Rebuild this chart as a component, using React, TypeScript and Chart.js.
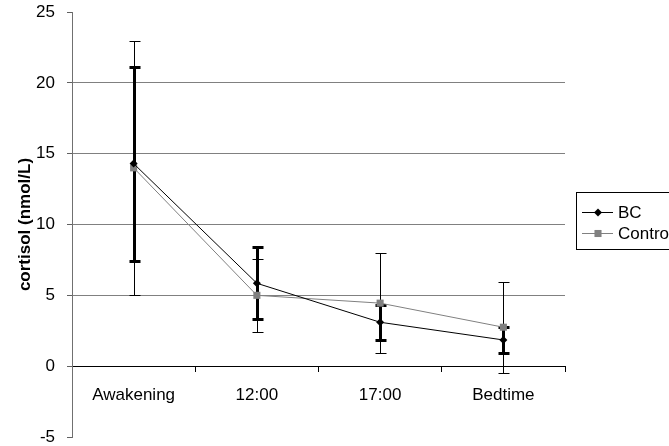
import { useEffect, useRef } from 'react';
import { Chart, registerables } from 'chart.js';

Chart.register(...registerables);

const categories = ['Awakening', '12:00', '17:00', 'Bedtime'];
const bcMean = [14.3, 5.85, 3.1, 1.85];
const bcErr = [6.85, 2.55, 1.25, 0.95];
const controlMean = [14.0, 5.0, 4.45, 2.75];
const controlErr = [8.95, 2.6, 3.55, 3.2];
const yTicks = { min: -5, max: 25, step: 5 };
const seriesLabels = ['BC', 'Control'];
const axisTitle = 'cortisol (nmol/L)';

const FAMILY = '"Liberation Sans", Arial, sans-serif';
const FONT_SIZE = 17;

export default function App() {
  const ref = useRef<HTMLCanvasElement>(null);

  useEffect(() => {
    document.body.style.margin = '0';
    const errs = [bcErr, controlErr];

    const errorBars = {
      id: 'errorBars',
      beforeDatasetsDraw(chart: any) {
        const ctx = chart.ctx;
        const yScale = chart.scales.y;
        const order = [
          { idx: 1, width: 1, cap: 5 },
          { idx: 0, width: 3, cap: 5 },
        ];
        ctx.save();
        ctx.strokeStyle = '#000';
        order.forEach(({ idx, width, cap }) => {
          const meta = chart.getDatasetMeta(idx);
          const data = chart.data.datasets[idx].data as number[];
          const err = errs[idx];
          ctx.lineWidth = width;
          meta.data.forEach((pt: any, i: number) => {
            const x = Math.round(pt.x) + (width % 2 ? 0.5 : 0);
            const yt = Math.round(yScale.getPixelForValue(data[i] + err[i])) + 0.5;
            const yb = Math.round(yScale.getPixelForValue(data[i] - err[i])) + 0.5;
            ctx.beginPath();
            ctx.moveTo(x, yt);
            ctx.lineTo(x, yb);
            ctx.moveTo(x - cap, yt);
            ctx.lineTo(x + cap + 1, yt);
            ctx.moveTo(x - cap, yb);
            ctx.lineTo(x + cap + 1, yb);
            ctx.stroke();
          });
        });
        ctx.restore();
      },
    };

    const legendBox = {
      id: 'legendBox',
      afterDraw(chart: any) {
        const ctx = chart.ctx;
        ctx.save();
        const bx = 576.5, by = 192.5, bw = 140, bh = 57;
        ctx.fillStyle = '#fff';
        ctx.fillRect(bx, by, bw, bh);
        ctx.strokeStyle = '#000';
        ctx.lineWidth = 1;
        ctx.strokeRect(bx, by, bw, bh);
        const rows = [212, 233];
        chart.data.datasets.forEach((ds: any, i: number) => {
          const y = rows[i] + 0.5;
          ctx.strokeStyle = ds.borderColor;
          ctx.lineWidth = 1;
          ctx.beginPath();
          ctx.moveTo(582, y);
          ctx.lineTo(613, y);
          ctx.stroke();
          ctx.fillStyle = ds.pointBackgroundColor;
          ctx.beginPath();
          if (ds.pointStyle === 'rectRot') {
            const r = ds.pointRadius;
            ctx.moveTo(598 - r, y);
            ctx.lineTo(598, y - r);
            ctx.lineTo(598 + r, y);
            ctx.lineTo(598, y + r);
            ctx.closePath();
          } else {
            const s = ds.pointRadius * Math.SQRT1_2;
            ctx.rect(598 - s, y - s, 2 * s, 2 * s);
          }
          ctx.fill();
          ctx.fillStyle = '#000';
          ctx.font = `${FONT_SIZE}px ${FAMILY}`;
          ctx.textBaseline = 'middle';
          ctx.textAlign = 'left';
          ctx.fillText(ds.label, 618, rows[i] + 1);
        });
        ctx.restore();
      },
    };

    const chart = new Chart(ref.current as HTMLCanvasElement, {
      type: 'line',
      data: {
        labels: categories,
        datasets: [
          {
            label: seriesLabels[0],
            data: bcMean,
            borderColor: '#000',
            backgroundColor: '#000',
            pointBackgroundColor: '#000',
            pointBorderColor: '#000',
            borderWidth: 1,
            pointStyle: 'rectRot',
            pointRadius: 4,
            pointBorderWidth: 0,
            tension: 0,
          } as any,
          {
            label: seriesLabels[1],
            data: controlMean,
            borderColor: '#808080',
            backgroundColor: '#808080',
            pointBackgroundColor: '#808080',
            pointBorderColor: '#808080',
            borderWidth: 1,
            pointStyle: 'rect',
            pointRadius: 5,
            pointBorderWidth: 0,
            tension: 0,
          } as any,
        ],
      },
      options: {
        responsive: false,
        animation: false,
        devicePixelRatio: 1,
        layout: { padding: { left: 0, right: 104, top: 12, bottom: 9 } },
        plugins: {
          legend: { display: false },
          tooltip: { enabled: false },
        },
        scales: {
          x: {
            type: 'category',
            position: { y: 0 } as any,
            offset: true,
            grid: {
              drawOnChartArea: false,
              drawTicks: true,
              tickLength: 5,
              color: '#000',
              offset: true,
            },
            border: { color: '#000', width: 1 },
            ticks: {
              color: '#000',
              font: { size: FONT_SIZE, family: FAMILY },
              padding: 14,
              maxRotation: 0,
              autoSkip: false,
            },
            afterFit: (s: any) => {
              s.height = 0;
              s.paddingLeft = 0;
              s.paddingRight = 0;
            },
          },
          y: {
            min: yTicks.min,
            max: yTicks.max,
            ticks: {
              stepSize: yTicks.step,
              color: '#000',
              font: { size: FONT_SIZE, family: FAMILY },
              padding: 12,
            },
            grid: {
              color: (c: any) =>
                c.tick && c.tick.value > 0 && c.tick.value < yTicks.max ? '#808080' : 'rgba(0,0,0,0)',
              tickColor: '#606060',
              tickLength: 5,
              drawTicks: true,
            },
            border: { color: '#707070', width: 1 },
            title: {
              display: true,
              text: axisTitle,
              color: '#000',
              font: { size: FONT_SIZE, weight: 'bold', family: FAMILY },
              padding: { top: 15, bottom: 0 },
            },
            afterFit: (s: any) => {
              s.width = 72;
              s.paddingTop = 0;
              s.paddingBottom = 0;
            },
          },
        },
      },
      plugins: [errorBars, legendBox],
    });
    return () => chart.destroy();
  }, []);

  return <canvas ref={ref} width={669} height={446} style={{ display: 'block' }} />;
}
